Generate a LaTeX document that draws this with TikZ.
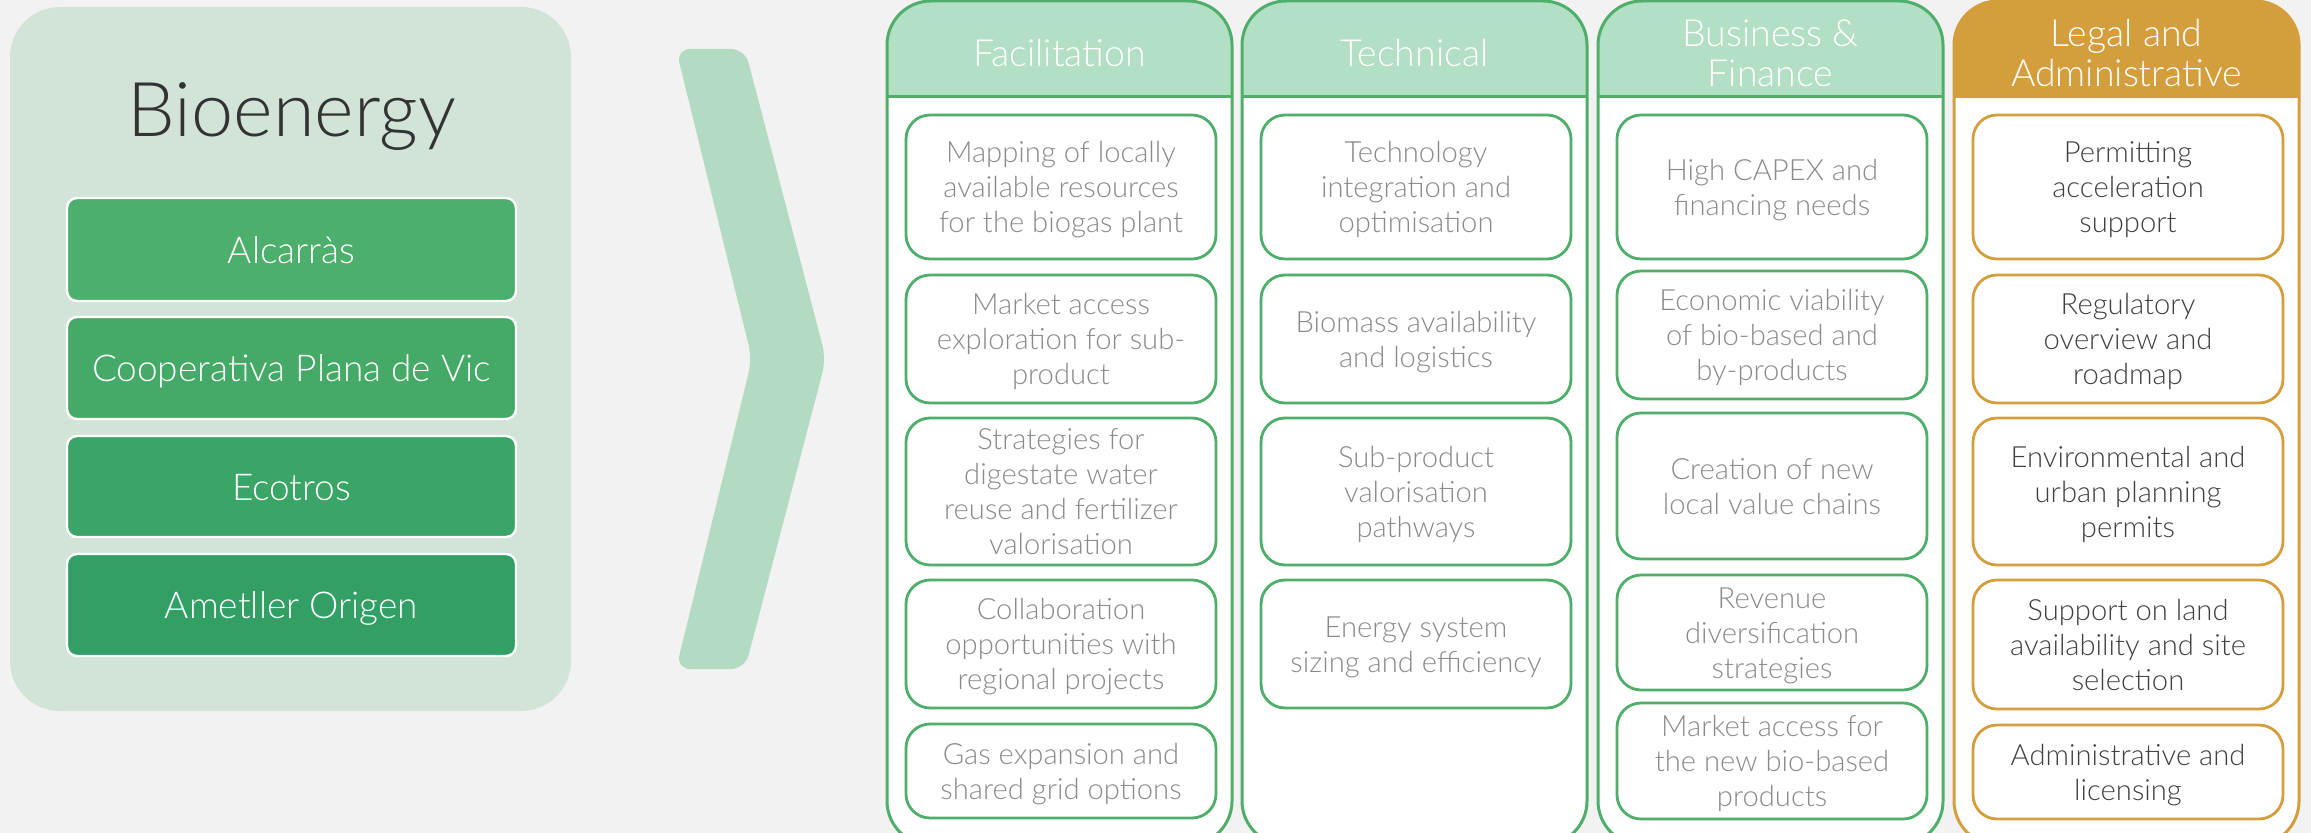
\documentclass[tikz,border=0pt]{standalone}
\usepackage{fontspec}
\IfFontExistsTF{Lato Light}{\setmainfont{Lato Light}}{\setmainfont{Lato}}
\definecolor{bg}{HTML}{F2F2F2}
\definecolor{panel}{HTML}{D2E4D8}
\definecolor{ga}{HTML}{4CAF6B}
\definecolor{gb}{HTML}{45AA68}
\definecolor{gc}{HTML}{3BA567}
\definecolor{gd}{HTML}{32A065}
\definecolor{chev}{HTML}{B3DBC2}
\definecolor{gline}{HTML}{4EAE6A}
\definecolor{ghead}{HTML}{B3DFC4}
\definecolor{gold}{HTML}{D59E3D}
\definecolor{gtext}{HTML}{8A8A8A}
\definecolor{dtext}{HTML}{404040}
\definecolor{ttext}{HTML}{333333}
\newcommand\tstr{\rule{0pt}{0.96em}}
\newcommand\bstr{\rule[-0.22em]{0pt}{0.22em}}
\newcommand\mkbox[7]{%
  \pgfmathsetmacro\ibW{(#5-#3)*0.5}%
  \pgfmathsetmacro\ibH{(#6-#4)*0.5}%
  \pgfmathsetmacro\ibX{(#3+#5)/2}%
  \pgfmathsetmacro\ibY{(#4+#6)/2}%
  \node[#1, minimum width=\ibW pt, minimum height=\ibH pt] (#2) at (\ibX,\ibY) {\tstr#7\bstr};}
\newcommand\mkcol[5]{%
  \fill[white, rounded corners=22pt] (#2,1) rectangle (#3,845);
  \begin{scope}
    \clip[rounded corners=22pt] (#2,1) rectangle (#3,845);
    \fill[#5] (#2,-5) rectangle (#3,97);
  \end{scope}
  \draw[#4, line width=1.5pt] (#2,97) -- (#3,97);
  \mkbox{colframe=#4}{#1}{#2}{1}{#3}{845}{}}
\begin{document}
\begin{tikzpicture}[x=0.5pt,y=-0.5pt,
  compbox/.style={fill=#1, draw=white, line width=1.2pt, rounded corners=5pt, inner sep=0pt,
    text=white, font=\fontsize{18.5}{22}\selectfont},
  itembox/.style={draw=gline, fill=white, line width=1.4pt, rounded corners=12pt, inner sep=0pt,
    text=gtext, align=center, font=\fontsize{14.6}{17.5}\selectfont},
  legalbox/.style={itembox, draw=gold, text=dtext},
  colframe/.style={draw=#1, line width=1.5pt, rounded corners=22pt, inner sep=0pt},
  hdrtext/.style={text=white, align=center, inner sep=0pt, font=\fontsize{18.7}{20}\selectfont}]
\useasboundingbox (0,0) rectangle (2311,833);
\fill[bg] (0,0) rectangle (2311,833);
% left panel
\mkbox{fill=panel, rounded corners=25pt, inner sep=0pt}{panel}{10}{7}{571}{711}{}
\node[anchor=base, text=ttext, inner sep=0pt, font=\fontsize{37.8}{42}\selectfont] (title) at (292,137) {Bioenergy};
\mkbox{compbox=ga}{c1}{67}{198}{516}{301}{Alcarràs}
\mkbox{compbox=gb}{c2}{67}{317}{516}{419}{Cooperativa Plana de Vic}
\mkbox{compbox=gc}{c3}{67}{436}{516}{537}{Ecotros}
\mkbox{compbox=gd}{c4}{67}{554}{516}{656}{Ametller Origen}
% chevron
\fill[chev, rounded corners=7pt] (676,49) -- (745,49) -- (826,359) -- (745,669) -- (676,669) -- (752,359) -- cycle;
% columns
\mkcol{fac}{887}{1232}{gline}{ghead}
\mkcol{tec}{1242}{1587}{gline}{ghead}
\mkcol{bus}{1598}{1943}{gline}{ghead}
\mkcol{leg}{1954}{2299}{gold}{gold}
\node[hdrtext] (facH) at (1059.5,53) {\tstr Facilitation\bstr};
\node[hdrtext] (tecH) at (1414.5,53) {\tstr Technical\bstr};
\node[hdrtext] (busH) at (1770.5,53) {\tstr Business \&\\Finance\bstr};
\node[hdrtext] (legH) at (2126.5,53) {\tstr Legal and\\Administrative\bstr};
% facilitation
\mkbox{itembox}{f1}{906}{115}{1216}{259}{Mapping of locally\\available resources\\for the biogas plant}
\mkbox{itembox}{f2}{906}{275}{1216}{403}{Market access\\exploration for sub-\\product}
\mkbox{itembox}{f3}{906}{418}{1216}{565}{Strategies for\\digestate water\\reuse and fertilizer\\valorisation}
\mkbox{itembox}{f4}{906}{580}{1216}{708}{Collaboration\\opportunities with\\regional projects}
\mkbox{itembox}{f5}{906}{724}{1216}{818}{Gas expansion and\\shared grid options}
% technical
\mkbox{itembox}{t1}{1261}{115}{1571}{259}{Technology\\integration and\\optimisation}
\mkbox{itembox}{t2}{1261}{275}{1571}{403}{Biomass availability\\and logistics}
\mkbox{itembox}{t3}{1261}{418}{1571}{565}{Sub-product\\valorisation\\pathways}
\mkbox{itembox}{t4}{1261}{580}{1571}{708}{Energy system\\sizing and efficiency}
% business
\mkbox{itembox}{b1}{1617}{115}{1927}{259}{High CAPEX and\\financing needs}
\mkbox{itembox}{b2}{1617}{271}{1927}{399}{Economic viability\\of bio-based and\\by-products}
\mkbox{itembox}{b3}{1617}{413}{1927}{559}{Creation of new\\local value chains}
\mkbox{itembox}{b4}{1617}{575}{1927}{690}{Revenue\\diversification\\strategies}
\mkbox{itembox}{b5}{1617}{703}{1927}{819}{Market access for\\the new bio-based\\products}
% legal
\mkbox{legalbox}{l1}{1973}{115}{2283}{259}{Permitting\\acceleration\\support}
\mkbox{legalbox}{l2}{1973}{275}{2283}{403}{Regulatory\\overview and\\roadmap}
\mkbox{legalbox}{l3}{1973}{418}{2283}{565}{Environmental and\\urban planning\\permits}
\mkbox{legalbox}{l4}{1973}{580}{2283}{709}{Support on land\\availability and site\\selection}
\mkbox{legalbox}{l5}{1973}{725}{2283}{819}{Administrative and\\licensing}
\end{tikzpicture}
\end{document}
